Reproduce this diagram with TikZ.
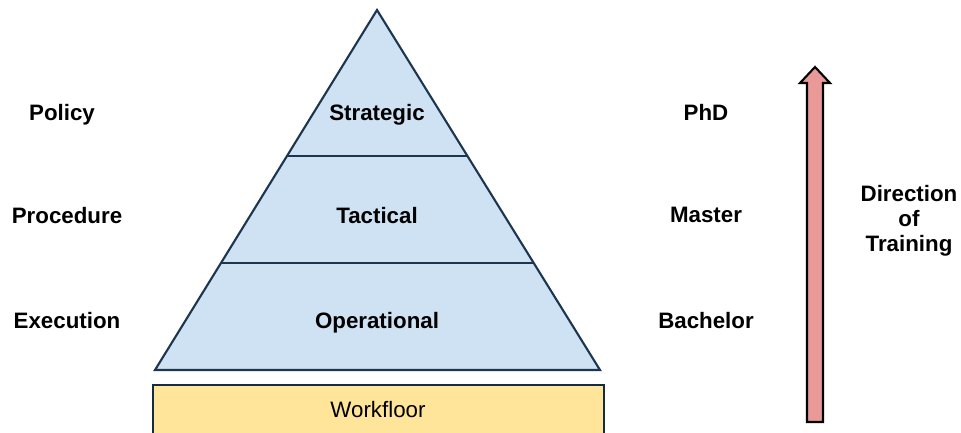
\documentclass[tikz,border=0pt]{standalone}
\usepackage{fontspec}
\setmainfont{Liberation Sans}
\usepackage{tikz}
\definecolor{pyrfill}{HTML}{CFE2F3}
\definecolor{pyrline}{HTML}{1D3650}
\definecolor{floorfill}{HTML}{FFE599}
\definecolor{arrfill}{HTML}{EA9999}
\tikzset{lbl/.style={font=\fontsize{12.7}{14}\selectfont\bfseries, inner sep=0pt, text depth=0pt},
         lvl/.style={draw=pyrline, line width=1.2pt, line join=miter}}

\begin{document}
\begin{tikzpicture}[x=0.02cm, y=-0.02cm]
 \useasboundingbox (0,0) rectangle (961,433);
 \clip (0,0) rectangle (961,433);

 % pyramid
 \coordinate (top)  at (377, 10);
 \coordinate (bl)   at (155,370);
 \coordinate (br)   at (600,370);
 \coordinate (s1l)  at (287,156);
 \coordinate (s1r)  at (467,156);
 \coordinate (s2l)  at (221,263);
 \coordinate (s2r)  at (534,263);
 \filldraw[lvl, fill=pyrfill] (top) -- (br) -- (bl) -- cycle;
 \draw[lvl] (s1l) -- (s1r);
 \draw[lvl] (s2l) -- (s2r);

 % workfloor
 \filldraw[draw=pyrline!80!black, line width=1.2pt, fill=floorfill] (153,385) rectangle (604,445);
 \node[font=\fontsize{12.7}{14}\selectfont, inner sep=0pt, text depth=0pt] (wf) at (378,409) {Workfloor};

 \node[lbl] (strat) at (377,112) {Strategic};
 \node[lbl] (tact)  at (377,215) {Tactical};
 \node[lbl] (oper)  at (377,320) {Operational};

 \node[lbl] (pol)  at (62,112) {Policy};
 \node[lbl] (proc) at (67,215) {Procedure};
 \node[lbl] (exec) at (67,320) {Execution};

 \node[lbl] (phd)  at (706,112) {PhD};
 \node[lbl] (mst)  at (706,215) {Master};
 \node[lbl] (bch)  at (706,320) {Bachelor};

 % direction arrow
 \filldraw[draw=black, line width=1.2pt, fill=arrfill, line join=miter]
   (807,422) -- (807,83) -- (800,83) -- (815,67) -- (830,83) -- (823,83) -- (823,422) -- cycle;
 \node[font=\fontsize{12.7}{14.2}\selectfont\bfseries, inner sep=0pt, align=center] (dir) at (909,221) {Direction\\of\\Training};
\end{tikzpicture}
\end{document}
